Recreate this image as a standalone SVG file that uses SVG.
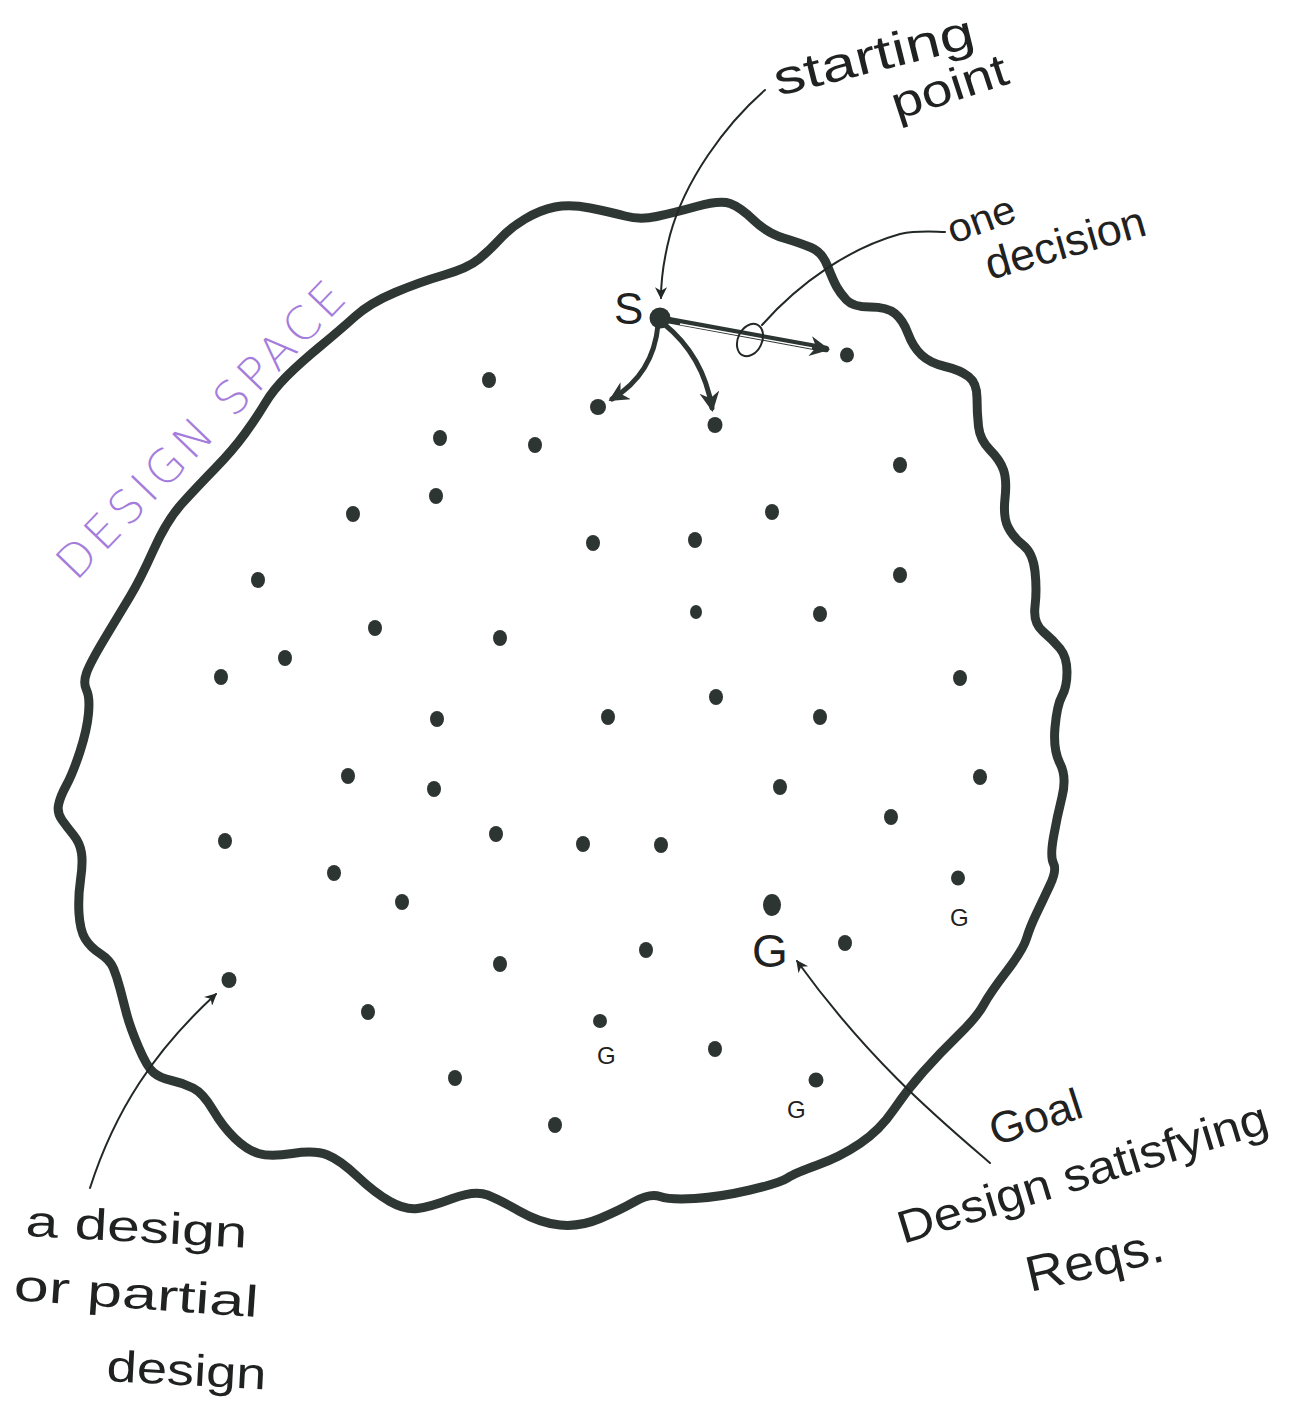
<svg xmlns="http://www.w3.org/2000/svg" width="1297" height="1418" viewBox="0 0 1297 1418">
<style>
.hand{font-family:"Liberation Sans","DejaVu Sans",sans-serif;fill:#1f2220}
.purple{font-family:"DejaVu Sans","Liberation Sans",sans-serif;font-weight:300;fill:#a47ddc}
.dot{fill:#2d3532}
.thin{fill:none;stroke:#222826;stroke-width:2;stroke-linecap:round}
.thick{fill:none;stroke:#2d3532;stroke-width:5;stroke-linecap:round}
</style>
<defs>
<marker id="ah" viewBox="0 0 10 10" refX="9" refY="5" markerWidth="15" markerHeight="12" markerUnits="userSpaceOnUse" orient="auto">
<path d="M0,0 L10,5 L0,10 L3,5 z" fill="#222826"/>
</marker>
<marker id="ahb" viewBox="0 0 10 10" refX="8" refY="5" markerWidth="22" markerHeight="20" markerUnits="userSpaceOnUse" orient="auto">
<path d="M0,0 L10,5 L0,10 L3,5 z" fill="#2d3532"/>
</marker>
</defs>
<rect width="1297" height="1418" fill="#ffffff"/>

<g id="design-space">
<path fill="none" stroke="#2f3735" stroke-width="9" stroke-linejoin="round" d="M355,316.5 Q370,303 395,292.5 Q420,282 444,275 Q468,268 479,259 Q490,250 500,239 Q510,228 525,219 Q540,210 555,207 Q570,204 590,208 Q610,212 625,216 Q640,220 656.5,216.5 Q673,213 696.5,206.5 Q720,200 730,203.5 Q740,207 753.5,220 Q767,233 783.5,238 Q800,243 811,247.5 Q822,252 827.5,266 Q833,280 836.5,286.5 Q840,293 846.5,300 Q853,307 870,307 Q887,307 895,313.5 Q903,320 908,333.5 Q913,347 921.5,355 Q930,363 945,366.5 Q960,370 968.5,376.5 Q977,383 977,398 Q977,413 978.5,426.5 Q980,440 990,450 Q1000,460 1003.5,470 Q1007,480 1005,498.5 Q1003,517 1008,527 Q1013,537 1023,545 Q1033,553 1035,571.5 Q1037,590 1035,606.5 Q1033,623 1043,631.5 Q1053,640 1060,648.5 Q1067,657 1067,672 Q1067,687 1062,696 Q1057,705 1055,727.5 Q1053,750 1060,763.5 Q1067,777 1062,797 Q1057,817 1053.5,837 Q1050,857 1053.5,863.5 Q1057,870 1050,885 Q1043,900 1036.5,913.5 Q1030,927 1026.5,938.5 Q1023,950 1006.5,971.5 Q990,993 983.5,1005 Q977,1017 958.5,1035 Q940,1053 923.5,1071.5 Q907,1090 893.5,1110 Q880,1130 860,1143.5 Q840,1157 817.5,1165 Q795,1173 787.5,1178 Q780,1183 750,1190 Q720,1197 695,1198.5 Q670,1200 660,1196.5 Q650,1193 635,1201.5 Q620,1210 600,1218.5 Q580,1227 560,1225 Q540,1223 520,1211.5 Q500,1200 487.5,1195 Q475,1190 452.5,1198.5 Q430,1207 417.5,1208.5 Q405,1210 390,1201.5 Q375,1193 357.5,1176.5 Q340,1160 327.5,1155 Q315,1150 292.5,1153.5 Q270,1157 258.5,1153.5 Q247,1150 235,1138.5 Q223,1127 213,1110 Q203,1093 193,1088 Q183,1083 171.5,1080.5 Q160,1078 153.5,1072.5 Q147,1067 138.5,1047 Q130,1027 126.5,1013.5 Q123,1000 120,988.5 Q117,977 113.5,968.5 Q110,960 100,953.5 Q90,947 85,938.5 Q80,930 79,913.5 Q78,897 80.5,880 Q83,863 81.5,853 Q80,843 73.5,835 Q67,827 62,820 Q57,813 58.5,805 Q60,797 66.5,785 Q73,773 80,751.5 Q87,730 88.5,713.5 Q90,697 86.5,690 Q83,683 86.5,673 Q90,663 105,638 Q120,613 130,596.5 Q140,580 153.5,550 Q167,520 182,503.5 Q197,487 215,468.5 Q233,450 245,433.5 Q257,417 265,403.5 Q273,390 286.5,376.5 Q300,363 320,346.5 Q340,330 355,316.5 Z"/>
<text class="purple" font-size="46" transform="translate(76,582) rotate(-46)" textLength="392" lengthAdjust="spacing">DESIGN SPACE</text>
</g>

<g id="connectors">
<path class="thin" d="M765,90 C725,125 685,180 670,235 C663,262 661,282 661,298" marker-end="url(#ah)"/>
<path class="thin" d="M762,325 C800,282 850,248 900,234 C920,230 935,232 945,232"/>
<path class="thick" d="M658,325 C655,357 640,382 612,399" marker-end="url(#ahb)"/>
<path class="thick" d="M664,324 C690,345 706,372 712,408" marker-end="url(#ahb)"/>
<path fill="none" stroke="#2d3532" stroke-width="6.5" stroke-linecap="round" d="M668,320 L826,349" marker-end="url(#ahb)"/>
<path fill="none" stroke="#ffffff" stroke-width="1.4" d="M680,324 L812,348"/>
<path class="thin" d="M90,1188 C115,1110 155,1050 216,994" marker-end="url(#ah)"/>
<path class="thin" d="M990,1163 C940,1120 870,1062 797,961" marker-end="url(#ah)"/>
</g>

<g id="start">
<circle class="dot" cx="660" cy="318" r="10.5"/>
<text class="hand" x="614" y="324" font-size="44">S</text>
</g>
<g id="decision">
<ellipse cx="750" cy="340" rx="12" ry="17" transform="rotate(25 750 340)" fill="none" stroke="#222826" stroke-width="2"/>
</g>

<g id="goal-main">
<ellipse class="dot" cx="772" cy="905" rx="9" ry="11"/>
<text class="hand" x="752" y="967" font-size="46">G</text>
</g>
<g id="goal-2">
<ellipse class="dot" cx="958" cy="878" rx="7" ry="7.5"/>
<text class="hand" x="950" y="926" font-size="24">G</text>
</g>
<g id="goal-3">
<ellipse class="dot" cx="600" cy="1021" rx="7" ry="7"/>
<text class="hand" x="597" y="1064" font-size="24">G</text>
</g>
<g id="goal-4">
<ellipse class="dot" cx="816" cy="1080" rx="7.5" ry="7.5"/>
<text class="hand" x="787" y="1118" font-size="24">G</text>
</g>

<g id="designs">
<ellipse class="dot" cx="489" cy="380" rx="7" ry="8"/>
<ellipse class="dot" cx="598" cy="407" rx="8" ry="8"/>
<ellipse class="dot" cx="715" cy="425" rx="7.5" ry="8"/>
<ellipse class="dot" cx="847" cy="355" rx="7" ry="7.5"/>
<ellipse class="dot" cx="440" cy="438" rx="7" ry="8"/>
<ellipse class="dot" cx="535" cy="445" rx="7" ry="8"/>
<ellipse class="dot" cx="900" cy="465" rx="7" ry="8"/>
<ellipse class="dot" cx="436" cy="496" rx="7" ry="8"/>
<ellipse class="dot" cx="353" cy="514" rx="7" ry="8"/>
<ellipse class="dot" cx="772" cy="512" rx="7" ry="8"/>
<ellipse class="dot" cx="593" cy="543" rx="7" ry="8"/>
<ellipse class="dot" cx="695" cy="540" rx="7" ry="8"/>
<ellipse class="dot" cx="900" cy="575" rx="7" ry="8"/>
<ellipse class="dot" cx="258" cy="580" rx="7" ry="8"/>
<ellipse class="dot" cx="696" cy="612" rx="6" ry="7"/>
<ellipse class="dot" cx="820" cy="614" rx="7" ry="8"/>
<ellipse class="dot" cx="375" cy="628" rx="7" ry="8"/>
<ellipse class="dot" cx="500" cy="638" rx="7" ry="8"/>
<ellipse class="dot" cx="285" cy="658" rx="7" ry="8"/>
<ellipse class="dot" cx="221" cy="677" rx="7" ry="8"/>
<ellipse class="dot" cx="960" cy="678" rx="7" ry="8"/>
<ellipse class="dot" cx="716" cy="697" rx="7" ry="8"/>
<ellipse class="dot" cx="437" cy="719" rx="7" ry="8"/>
<ellipse class="dot" cx="608" cy="717" rx="7" ry="8"/>
<ellipse class="dot" cx="820" cy="717" rx="7" ry="8"/>
<ellipse class="dot" cx="348" cy="776" rx="7" ry="8"/>
<ellipse class="dot" cx="980" cy="777" rx="7" ry="8"/>
<ellipse class="dot" cx="434" cy="789" rx="7" ry="8"/>
<ellipse class="dot" cx="780" cy="787" rx="7" ry="8"/>
<ellipse class="dot" cx="891" cy="817" rx="7" ry="8"/>
<ellipse class="dot" cx="225" cy="841" rx="7" ry="8"/>
<ellipse class="dot" cx="496" cy="834" rx="7" ry="8"/>
<ellipse class="dot" cx="583" cy="844" rx="7" ry="8"/>
<ellipse class="dot" cx="661" cy="845" rx="7" ry="8"/>
<ellipse class="dot" cx="334" cy="873" rx="7" ry="8"/>
<ellipse class="dot" cx="402" cy="902" rx="7" ry="8"/>
<ellipse class="dot" cx="845" cy="943" rx="7" ry="8"/>
<ellipse class="dot" cx="646" cy="950" rx="7" ry="8"/>
<ellipse class="dot" cx="500" cy="964" rx="7" ry="8"/>
<ellipse class="dot" cx="229" cy="980" rx="7.5" ry="8"/>
<ellipse class="dot" cx="368" cy="1012" rx="7" ry="8"/>
<ellipse class="dot" cx="715" cy="1049" rx="7" ry="8"/>
<ellipse class="dot" cx="455" cy="1078" rx="7" ry="8"/>
<ellipse class="dot" cx="555" cy="1125" rx="7" ry="8"/>
</g>

<g id="labels">
<text class="hand" font-size="48" transform="translate(778,96) rotate(-14)" textLength="205" lengthAdjust="spacingAndGlyphs">starting</text>
<text class="hand" font-size="46" transform="translate(897,120) rotate(-18)" textLength="120" lengthAdjust="spacingAndGlyphs">point</text>
<text class="hand" font-size="40" transform="translate(953,244) rotate(-20)" textLength="70" lengthAdjust="spacingAndGlyphs">one</text>
<text class="hand" font-size="44" transform="translate(990,280) rotate(-16)" textLength="165" lengthAdjust="spacingAndGlyphs">decision</text>
<text class="hand" font-size="44" transform="translate(995,1146) rotate(-18)" textLength="95" lengthAdjust="spacingAndGlyphs">Goal</text>
<text class="hand" font-size="46" transform="translate(903,1244) rotate(-17)" textLength="385" lengthAdjust="spacingAndGlyphs">Design satisfying</text>
<text class="hand" font-size="50" transform="translate(1030,1292) rotate(-13)" textLength="140" lengthAdjust="spacingAndGlyphs">Reqs.</text>
<text class="hand" font-size="44" transform="translate(25,1236) rotate(3)" textLength="222" lengthAdjust="spacingAndGlyphs">a design</text>
<text class="hand" font-size="44" transform="translate(13,1300) rotate(4)" textLength="245" lengthAdjust="spacingAndGlyphs">or partial</text>
<text class="hand" font-size="44" transform="translate(106,1381) rotate(3)" textLength="160" lengthAdjust="spacingAndGlyphs">design</text>
</g>
</svg>
